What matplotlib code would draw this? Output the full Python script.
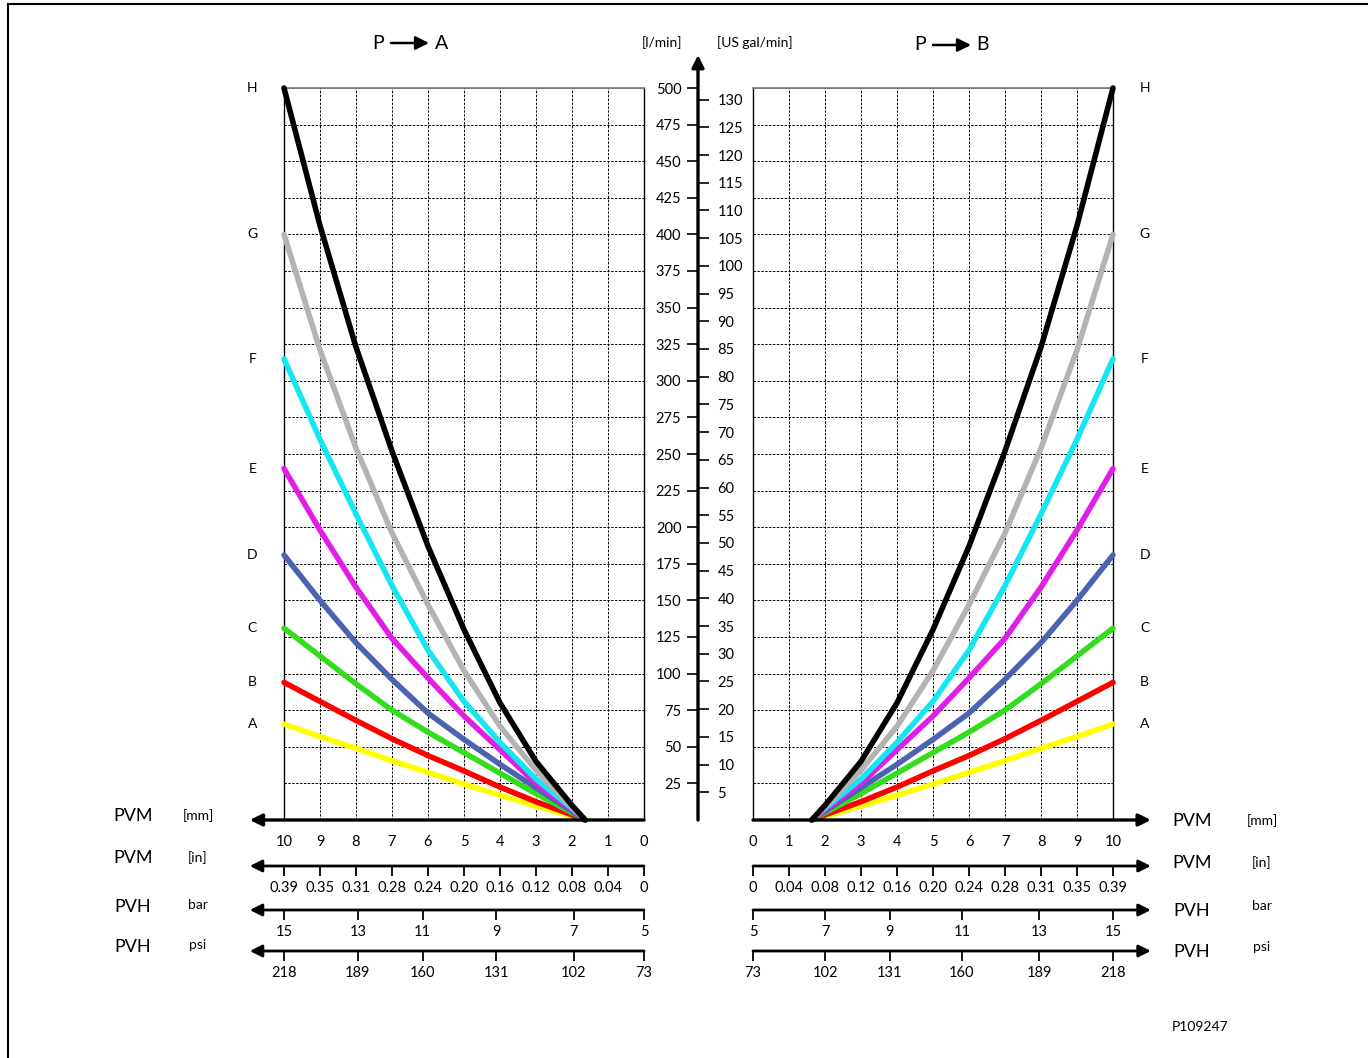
import matplotlib
matplotlib.use('Agg')
import matplotlib.pyplot as plt
from matplotlib.lines import Line2D

plt.rcParams['font.family'] = ['Lato', 'DejaVu Sans']

W, H = 1368, 1058

# spool stroke [mm] and flow [l/min] per spool size A..H
stroke_mm = [1.63, 2, 3, 4, 5, 6, 7, 8, 9, 10]
flow_A = [0, 2.5, 9.5, 17, 24.5, 32.5, 40.5, 49, 57, 65.5]
flow_B = [0, 3.5, 12.5, 22.5, 33.5, 44, 55.5, 68, 81, 94]
flow_C = [0, 5, 18, 32, 46, 60, 75, 93, 112, 131]
flow_D = [0, 6, 22, 38, 55, 73, 96, 121, 150, 181]
flow_E = [0, 7, 25, 48, 71, 97, 124, 159, 198, 240]
flow_F = [0, 8, 28, 53, 81, 116, 160, 209, 260, 315]
flow_G = [0, 9, 34, 64, 102, 147, 196, 254, 321, 400]
flow_H = [0, 10, 40, 80, 130, 187, 252, 323, 406, 500]

curve_names = ['A', 'B', 'C', 'D', 'E', 'F', 'G', 'H']
curve_flows = [flow_A, flow_B, flow_C, flow_D, flow_E, flow_F, flow_G, flow_H]
curve_colors = ['#ffff00', '#ff0000', '#33dd1e', '#4b63b0',
                '#e01ee8', '#16e6f2', '#b3b3b3', '#000000']

mm_ticks = list(range(11))
mm_labels = [str(v) for v in mm_ticks]
in_labels = ['0', '0.04', '0.08', '0.12', '0.16', '0.20', '0.24',
             '0.28', '0.31', '0.35', '0.39']
bar_labels = ['5', '7', '9', '11', '13', '15']
psi_labels = ['73', '102', '131', '160', '189', '218']
bar_pos_left = [0, 1.95, 4.1, 6.15, 7.95, 10]
bar_pos_right = [0, 2.0, 3.8, 5.8, 7.95, 10]

lpm_grid = list(range(0, 501, 25))
lpm_ticks = list(range(25, 501, 25))
gpm_ticks = list(range(5, 131, 5))
L_PER_GAL = 3.785


def fx(px):
    return px / W


def fy(py):
    return 1 - py / H


arrow_kw = dict(arrowstyle='-|>', color='k', lw=2.0, mutation_scale=18,
                shrinkA=0, shrinkB=0)

fig = plt.figure(figsize=(W / 100, H / 100), dpi=100)


def make_panel(left_px, flip, tip):
    ax = fig.add_axes([fx(left_px), fy(820), 360 / W, 732 / H])
    ax.set_xlim((10, 0) if flip else (0, 10))
    ax.set_ylim(0, 500)
    ax.set_xticks(mm_ticks, mm_labels)
    ax.set_yticks(lpm_grid)
    ax.tick_params(axis='x', length=0, pad=11, labelsize=10.5)
    ax.tick_params(axis='y', length=0, labelleft=False)
    ax.grid(True, color='k', lw=0.7, ls=(0, (2.5, 1.5)))
    ax.spines['bottom'].set_visible(False)
    ax.spines['top'].set_color('#808080')
    ax.spines['top'].set_linewidth(1.3)
    for s in ('left', 'right'):
        ax.spines[s].set_linewidth(1.0)
    for name, vals, col in zip(curve_names, curve_flows, curve_colors):
        ax.plot(stroke_mm, vals, color=col, lw=4.0, solid_capstyle='round',
                solid_joinstyle='round', clip_on=False, zorder=3)
        ax.text(10.88, vals[-1], name, ha='center', va='center', fontsize=10)
    ax.annotate('', xy=(tip, 0), xytext=(0, 0), arrowprops=dict(arrow_kw, lw=2.4),
                annotation_clip=False)
    return ax


def scale_row(ax, y_px, pos, labels, tip):
    p = ax.get_position()
    a = fig.add_axes([p.x0, fy(y_px), p.width, 0.001])
    a.set_xlim(ax.get_xlim())
    a.set_ylim(0, 1)
    a.patch.set_visible(False)
    for s in a.spines.values():
        s.set_visible(False)
    a.set_yticks([])
    a.set_xticks(pos, labels)
    a.tick_params(axis='x', direction='out', length=7, width=1.3, pad=4,
                  labelsize=10.5)
    a.annotate('', xy=(tip, 0), xytext=(0, 0), arrowprops=arrow_kw,
               annotation_clip=False)
    return a


ax_l = make_panel(284, True, 10.95)
ax_r = make_panel(753, False, 11.05)

scale_row(ax_l, 866, mm_ticks, in_labels, 10.95)
scale_row(ax_l, 910, bar_pos_left, bar_labels, 10.95)
scale_row(ax_l, 951, bar_pos_left, psi_labels, 10.95)
scale_row(ax_r, 866, mm_ticks, in_labels, 11.05)
scale_row(ax_r, 910, bar_pos_right, bar_labels, 11.05)
scale_row(ax_r, 951, bar_pos_right, psi_labels, 11.05)

# central flow axis: l/min on the left, US gal/min on the right
axc = fig.add_axes([fx(698), fy(820), 0.0001, 732 / H])
axc.set_ylim(0, 500)
axc.set_xticks([])
axc.patch.set_visible(False)
for s in axc.spines.values():
    s.set_visible(False)
axc.set_yticks(lpm_ticks)
axc.tick_params(axis='y', direction='out', length=8, width=1.2, pad=4,
                labelsize=10.5)
sec = axc.secondary_yaxis('right', functions=(lambda v: v / L_PER_GAL,
                                              lambda v: v * L_PER_GAL))
sec.set_yticks(gpm_ticks)
sec.tick_params(axis='y', direction='out', length=8, width=1.2, pad=6,
                labelsize=10.5)
sec.spines['right'].set_visible(False)
axc.annotate('', xy=(0, 1.045), xytext=(0, 0), xycoords='axes fraction',
             arrowprops=dict(arrow_kw, lw=2.4), annotation_clip=False)

fig.text(fx(662), fy(43), '[l/min]', ha='center', va='center', fontsize=10)
fig.text(fx(755), fy(43), '[US gal/min]', ha='center', va='center', fontsize=10)

# titles
for p_x, a0, a1, dest_x, dest, ty in [(378, 391, 429, 442, 'A', 43),
                                      (920, 933, 971, 983, 'B', 45)]:
    fig.text(fx(p_x), fy(ty), 'P', ha='center', va='center', fontsize=14)
    fig.text(fx(dest_x), fy(ty), dest, ha='center', va='center', fontsize=14)
    ax_l.annotate('', xy=(fx(a1), fy(ty)), xytext=(fx(a0), fy(ty)),
                  xycoords='figure fraction',
                  arrowprops=dict(arrow_kw, lw=1.8, mutation_scale=20),
                  annotation_clip=False)

# scale names
rows = [(816, 821, 'PVM', '[mm]'), (858, 863, 'PVM', '[in]'),
        (907, 911, 'PVH', 'bar'), (947, 952, 'PVH', 'psi')]
for yl, yr, name, unit in rows:
    fig.text(fx(133), fy(yl), name, ha='center', va='center', fontsize=13)
    fig.text(fx(1192), fy(yr), name, ha='center', va='center', fontsize=13)
    uy_l = yl - (2 if unit in ('bar', 'psi') else 0)
    uy_r = yr - (5 if unit in ('bar', 'psi') else 0)
    fig.text(fx(198), fy(uy_l), unit, ha='center', va='center', fontsize=10)
    fig.text(fx(1262), fy(uy_r), unit, ha='center', va='center', fontsize=10)

fig.text(fx(1200), fy(1027), 'P109247', ha='center', va='center', fontsize=10)

# page frame
fig.add_artist(Line2D([fx(8), 1], [fy(4), fy(4)], transform=fig.transFigure,
                      color='k', lw=1.5))
fig.add_artist(Line2D([fx(8), fx(8)], [fy(4), 0], transform=fig.transFigure,
                      color='k', lw=1.5))

fig.savefig('out.png', dpi=100)
